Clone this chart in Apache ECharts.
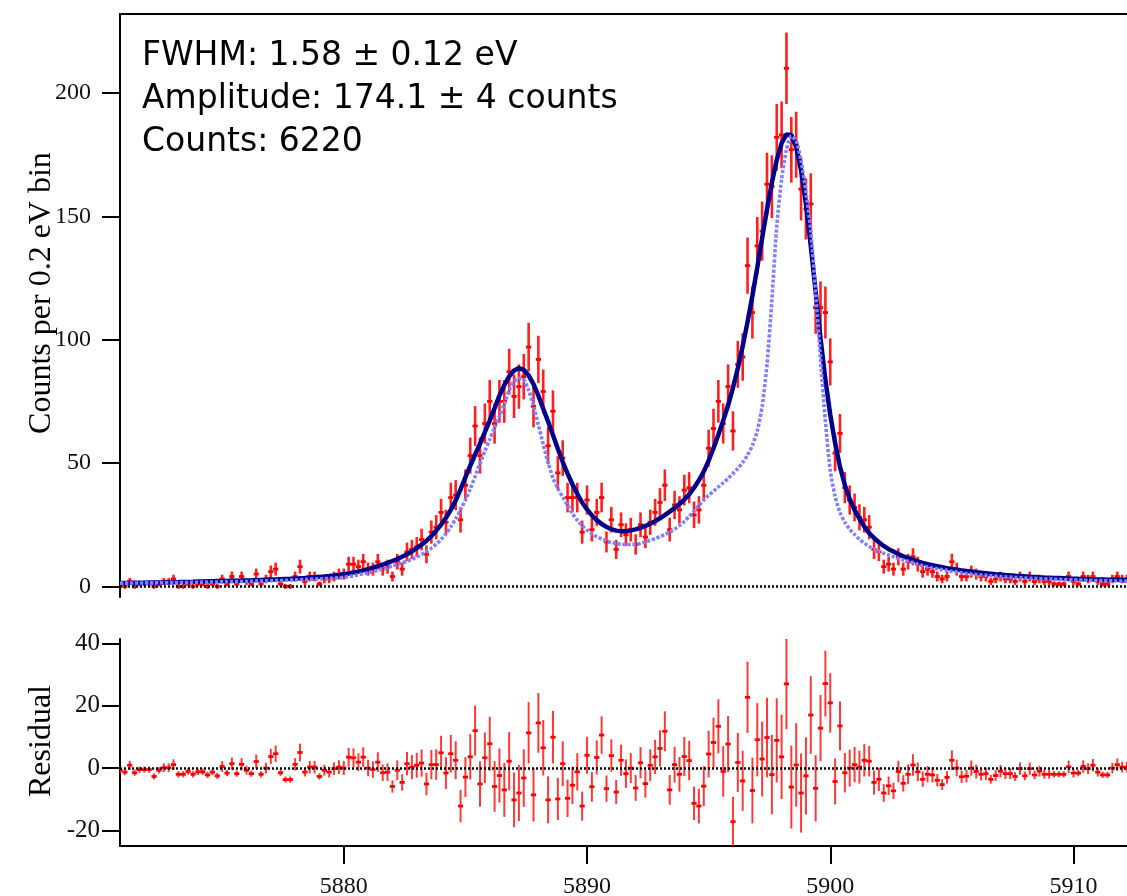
<!DOCTYPE html>
<html><head><meta charset="utf-8">
<script src="https://cdn.jsdelivr.net/npm/echarts@6/dist/echarts.min.js"></script>
<style>html,body{margin:0;padding:0;background:#fff}#chart{width:1127px;height:896px}</style>
</head><body><div id="chart"></div>
<script>
// ---- data (bin centres start at 5870.8 eV, 0.2 eV bins) ----
const binStart = 5870.8;
const binWidth = 0.2;

const counts = [
1,0,2,0,1,1,1,0,1,2,
2,3,0,0,1,0,1,1,0,1,
0,3,1,4,1,4,2,1,5,1,
3,6,7,1,0,0,4,8,2,4,
4,1,3,3,4,5,5,9,9,8,
10,7,7,10,7,8,4,10,7,14,
15,16,19,13,22,24,30,26,36,37,
27,41,53,65,53,66,75,66,75,75,
87,77,81,85,97,73,92,79,57,71,
46,52,36,36,36,22,35,23,30,36,
18,27,15,25,21,23,17,25,20,26,
30,34,41,23,33,31,39,40,29,31,
41,56,64,75,66,81,63,90,93,130,
111,138,144,163,162,182,183,210,177,179,
161,153,155,113,113,111,91,54,62,40,
35,32,28,27,24,15,14,8,9,7,
12,7,10,12,9,6,7,6,4,3,
4,10,7,4,4,6,5,4,4,2,
3,4,3,3,2,4,2,4,2,3,
2,2,1,1,1,4,2,1,4,3,
4,2,1,1,3,4,3,3];

const fitCounts = [
1.35,1.38,1.41,1.44,1.47,1.50,1.53,1.56,1.59,1.62,
1.65,1.69,1.73,1.78,1.83,1.88,1.94,2.00,2.05,2.10,
2.15,2.19,2.23,2.27,2.31,2.35,2.41,2.47,2.54,2.61,
2.68,2.76,2.84,2.93,3.02,3.11,3.21,3.32,3.44,3.57,
3.71,3.86,4.03,4.21,4.41,4.64,4.90,5.2,5.6,6.0,
6.5,7.0,7.6,8.2,8.8,9.5,10.3,11.1,12.0,13.0,
14.2,15.5,16.9,18.5,20.4,22.6,25.0,27.8,31.0,34.8,
39.3,44.2,48.9,53.4,57.8,62.5,67.2,72.2,77.3,81.6,
85.1,87.5,88.5,87.8,85.5,82.0,77.3,72.0,66.8,61.4,
55.8,50.5,45.7,41.4,37.5,34.0,31.2,28.8,26.9,25.3,
24.1,23.2,22.6,22.4,22.4,22.7,23.1,23.7,24.5,25.4,
26.4,27.6,28.9,30.3,31.8,33.4,35.2,37.3,40.0,43.0,
46.5,51.0,56.0,61.5,67.2,73.4,80.5,88.4,97.3,107.2,
117.8,129.3,141.2,152.8,163.6,172.8,179.6,183.2,183.0,178.1,
168.8,155.1,138.0,119.3,100.6,83.8,69.6,58.1,48.5,41.1,
35.4,31.0,27.4,24.2,21.6,19.6,17.9,16.4,15.1,14.1,
13.1,12.2,11.5,10.8,10.1,9.5,9.0,8.6,8.2,7.8,
7.4,7.1,6.8,6.5,6.2,6.0,5.75,5.55,5.35,5.15,
4.95,4.78,4.62,4.47,4.33,4.20,4.07,3.95,3.84,3.73,
3.63,3.54,3.45,3.37,3.29,3.21,3.14,3.07,3.01,2.95,
2.89,2.84,2.79,2.74,2.69,2.65,2.61,2.57];

const lineShape = [
1.30,1.32,1.34,1.36,1.38,1.40,1.42,1.44,1.46,1.48,
1.50,1.53,1.56,1.59,1.62,1.65,1.68,1.71,1.74,1.77,
1.80,1.84,1.88,1.92,1.96,2.00,2.04,2.08,2.13,2.18,
2.23,2.29,2.35,2.41,2.48,2.55,2.62,2.70,2.78,2.87,
2.96,3.06,3.16,3.27,3.39,3.52,3.70,4.0,4.3,4.7,
5.1,5.5,6.0,6.5,7.1,7.7,8.3,8.9,9.5,10.2,
11.0,11.9,12.9,14.1,15.5,17.1,19.0,21.3,24.1,27.4,
31.0,35.0,39.5,44.6,49.8,54.8,59.6,64.3,69.0,73.8,
79.5,83.0,84.3,83.8,79.5,73.3,65.5,57.5,50.2,44.0,
39.7,36.2,32.8,29.6,26.8,24.6,22.8,21.3,20.1,19.2,
18.4,17.8,17.4,17.1,17.0,17.0,17.1,17.4,18.0,18.7,
19.4,20.2,21.0,22.0,23.2,24.6,26.3,28.3,30.5,32.8,
35.0,36.9,38.6,40.3,42.0,43.8,45.7,47.8,50.2,53.2,
57.2,63,73,90,116,146,165,177,182.5,180.5,
172.5,160,144,119,92,67,47,36.5,30.0,26.0,
23.2,21.0,19.1,17.5,16.2,15.1,14.2,13.4,12.7,12.0,
11.3,10.7,10.2,9.7,9.0,8.4,7.9,7.4,7.1,6.8,
6.5,6.1,5.8,5.5,5.2,5.0,4.8,4.6,4.45,4.3,
4.15,4.0,3.87,3.75,3.63,3.52,3.42,3.32,3.23,3.14,
3.06,2.98,2.9,2.83,2.76,2.69,2.63,2.57,2.51,2.46,
2.41,2.36,2.31,2.27,2.23,2.19,2.15,2.11];

const residuals = [
-0.7,-1.3,0.9,-1.5,-0.5,-0.5,-0.5,-2.7,-0.7,0.1,
0.1,1.1,-2,-2,-1.1,-2,-1.2,-1.2,-2.2,-1.3,
-2.5,0.5,-1.6,1.4,-1.8,1.2,-0.7,-1.8,2.1,-2,
0,3.7,4.6,-1.5,-3.7,-3.7,1.2,5,-1.3,0.3,
0.3,-2.7,-0.7,-1.3,-0.2,0.3,0,3.5,3.3,1.9,
3.5,0,-0.5,1.9,-1.5,-1.3,-5.9,-0.7,-4.6,1.4,
0.3,0.9,1.6,-5.1,1.1,1.1,4.9,-1.6,4.6,2.5,
-12.2,-2.9,3.6,12,-5.1,3.3,7.8,-5.9,-2.4,-7,
2.2,-10.2,-8,-3.2,11.3,-8.6,14.5,6.5,-10.2,9.9,
-9.9,1.4,-9.7,-5.5,-1.2,-12.2,4.1,-6,3.4,10.6,
-6.6,4,-7.7,2.5,-1.8,0,-6.4,1.7,-5,0.9,
3.6,6.3,11.8,-7,1.1,-2,3.7,2.4,-11.3,-12.2,
-5.8,4.5,8.2,13.4,-1.1,7.7,-17.2,1.8,-4.1,22.7,
-7.2,9.1,2.9,9.8,-2.1,8.9,3.6,27,-6.1,1,
-8,-2.5,17,-6.5,12.8,27.1,20.9,-4.3,13.5,-1.5,
0,1.1,0.3,2.5,2.2,-4.6,-3.6,-8,-5.7,-7.3,
-1.1,-4.9,-2,1,-1.2,-3.6,-2,-2.2,-3.9,-5.3,
-3,2.5,0,-2.8,-2.6,0,-1.1,-2,-1.8,-3.6,
-2.4,-1,-1.8,-1.8,-2.7,-0.2,-2.5,-0.2,-2.2,-1,
-2,-2,-2,-2,-2,0.4,-1.6,-1.6,0.5,-0.2,
0.9,-1.3,-2.2,-2.2,0,1.1,0.3,0.3];

const xTicks = [5880, 5890, 5900, 5910];
const countTicks = [0, 50, 100, 150, 200];
const residualTicks = [-20, 0, 20, 40];
const residualMinorTicks = [-10, 10, 30];
const annotations = ['FWHM: 1.58 \u00b1 0.12 eV', 'Amplitude: 174.1 \u00b1 4 counts', 'Counts: 6220'];
const countsAxisName = 'Counts per 0.2 eV bin';
const residualAxisName = 'Residual';

// ---- derived ----
const energies = counts.map((_, i) => Math.round((binStart + binWidth * i) * 10) / 10);
const xMin = energies[0], xMax = energies[energies.length - 1];
const sigma = c => Math.sqrt(Math.max(c, 1));
const dataPts = energies.map((e, i) => [e, counts[i], sigma(counts[i])]);
const resPts = energies.map((e, i) => [e, residuals[i], sigma(counts[i])]);
const fitPts = energies.map((e, i) => [e, fitCounts[i]]);
const shapePts = energies.map((e, i) => [e, lineShape[i]]);

function makeErrorBar(barWidth, barColor) {
  return function (params, api) {
    const x = api.value(0), y = api.value(1), s = api.value(2);
    const hi = api.coord([x, y + s]);
    const lo = api.coord([x, y - s]);
    const mid = api.coord([x, y]);
    return {
      type: 'group',
      children: [
        { type: 'line', shape: { x1: hi[0], y1: hi[1], x2: lo[0], y2: lo[1] },
          style: { stroke: barColor, lineWidth: barWidth } },
        { type: 'rect', shape: { x: mid[0] - 2.6, y: mid[1] - 1.4, width: 5.2, height: 2.8 },
          style: { fill: '#ff0000' } }
      ]
    };
  };
}

const serif = '"Liberation Serif", "Times New Roman", serif';
const axisLineStyle = { color: '#000', width: 2 };
const plainNum = v => String(v);

const chart = echarts.init(document.getElementById('chart'), null, { renderer: 'canvas' });
chart.setOption({
  animation: false,
  backgroundColor: '#fff',
  grid: [
    { left: 120, right: 0, top: 14, height: 583, containLabel: false, outerBoundsMode: 'none' },
    { left: 120, right: 0, top: 639, height: 207, containLabel: false, outerBoundsMode: 'none' }
  ],
  xAxis: [
    { type: 'value', gridIndex: 0, min: xMin, max: xMax, position: 'bottom',
      axisLine: { show: false }, axisTick: { show: false }, axisLabel: { show: false }, splitLine: { show: false } },
    { type: 'value', gridIndex: 0, min: xMin, max: xMax, position: 'top',
      axisLine: { show: true, onZero: false, lineStyle: axisLineStyle }, axisTick: { show: false },
      axisLabel: { show: false }, splitLine: { show: false } },
    { type: 'value', gridIndex: 1, min: xMin, max: xMax, position: 'bottom',
      axisLine: { show: true, onZero: false, lineStyle: axisLineStyle },
      axisTick: { show: true, inside: false, length: 18, lineStyle: { color: '#000', width: 2 }, customValues: xTicks },
      axisLabel: { show: true, customValues: xTicks, margin: 29, fontFamily: serif, fontSize: 24, color: '#111', formatter: plainNum },
      splitLine: { show: false } }
  ],
  yAxis: [
    { type: 'value', gridIndex: 0, min: -4.3, max: 232,
      axisLine: { show: true, onZero: false, lineStyle: axisLineStyle },
      axisTick: { show: true, inside: false, length: 18, lineStyle: { color: '#000', width: 2 }, customValues: countTicks },
      axisLabel: { show: true, customValues: countTicks, margin: 29, fontFamily: serif, fontSize: 24, color: '#111', formatter: plainNum },
      splitLine: { show: false } },
    { type: 'value', gridIndex: 1, min: -25, max: 41.4,
      axisLine: { show: true, onZero: false, lineStyle: axisLineStyle },
      axisTick: { show: true, inside: false, length: 18, lineStyle: { color: '#000', width: 2 }, customValues: residualTicks },
      axisLabel: { show: true, customValues: residualTicks, margin: 20, fontFamily: serif, fontSize: 25, color: '#111', formatter: plainNum },
      splitLine: { show: false } },
    { type: 'value', gridIndex: 1, min: -25, max: 41.4,
      axisLine: { show: false },
      axisTick: { show: true, inside: false, length: 9, lineStyle: { color: '#000', width: 2 }, customValues: residualMinorTicks },
      axisLabel: { show: false }, splitLine: { show: false } }
  ],
  graphic: [
    ...annotations.map((t, i) => ({
      type: 'text', x: 142, y: 56 + i * 43,
      style: { text: t, font: '33px "DejaVu Sans"', fill: '#000', verticalAlign: 'middle', align: 'left' }
    })),
    { type: 'text', x: 42, y: 293, rotation: Math.PI / 2,
      style: { text: countsAxisName, font: '32px ' + serif, fill: '#000', align: 'center', verticalAlign: 'middle' } },
    { type: 'text', x: 42, y: 741, rotation: Math.PI / 2,
      style: { text: residualAxisName, font: '32px ' + serif, fill: '#000', align: 'center', verticalAlign: 'middle' } }
  ],
  series: [
    { name: 'data', type: 'custom', xAxisIndex: 0, yAxisIndex: 0, renderItem: makeErrorBar(2.6, 'rgba(255,0,0,0.88)'),
      data: dataPts, encode: { x: 0, y: 1 }, clip: true, z: 2,
      markLine: { silent: true, symbol: 'none', label: { show: false },
        lineStyle: { type: [2, 2], color: '#000', width: 2.5 }, data: [{ yAxis: 0 }] } },
    { name: 'fit', type: 'line', xAxisIndex: 0, yAxisIndex: 0, data: fitPts, showSymbol: false, symbol: 'none',
      lineStyle: { color: '#00008c', width: 4.5 }, z: 3 },
    { name: 'line shape', type: 'line', xAxisIndex: 0, yAxisIndex: 0, data: shapePts, showSymbol: false, symbol: 'none',
      smooth: 0.25, lineStyle: { color: '#8080ff', width: 3.6, type: [3.2, 1.8] }, z: 4 },
    { name: 'residual', type: 'custom', xAxisIndex: 2, yAxisIndex: 1, renderItem: makeErrorBar(2, 'rgba(255,0,0,0.78)'),
      data: resPts, encode: { x: 0, y: 1 }, clip: true, z: 2,
      markLine: { silent: true, symbol: 'none', label: { show: false },
        lineStyle: { type: [2, 2], color: '#000', width: 2.5 }, data: [{ yAxis: 0 }] } }
  ]
});
</script></body></html>
